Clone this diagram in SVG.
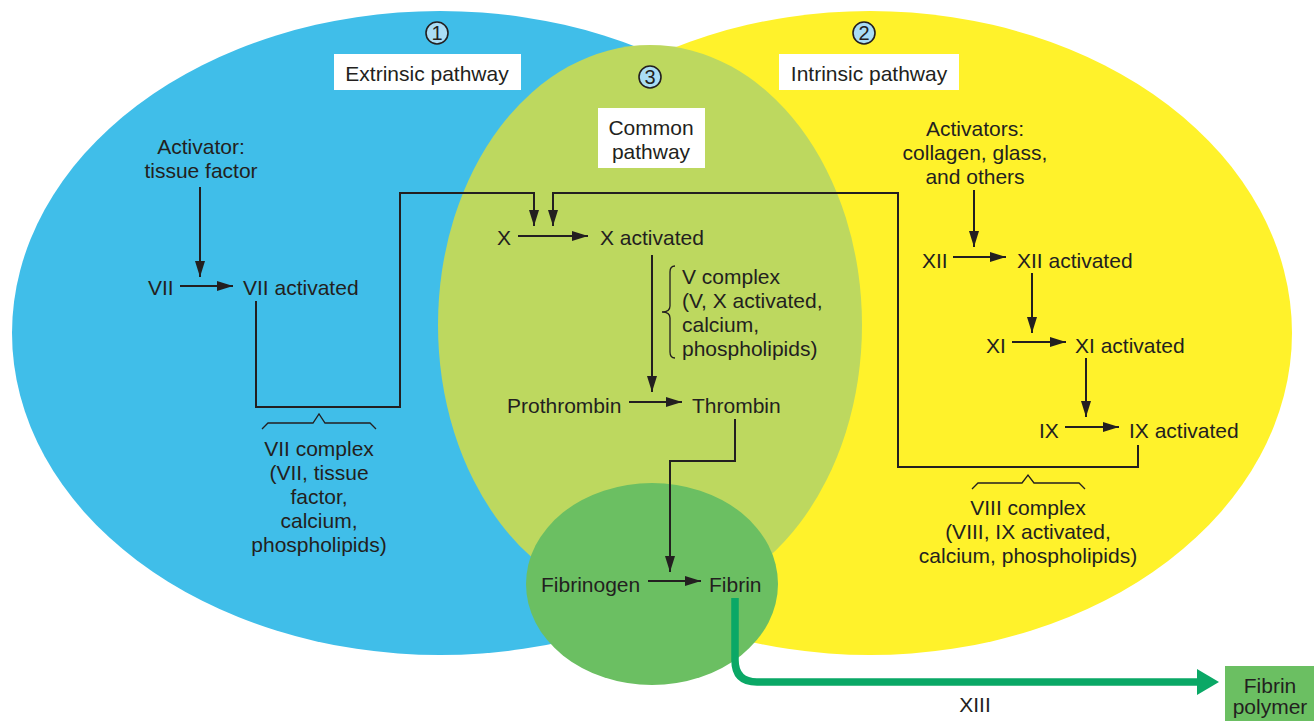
<svg xmlns="http://www.w3.org/2000/svg" width="1314" height="721" viewBox="0 0 1314 721">
<style>
text{font-family:"Liberation Sans",Arial,Helvetica,sans-serif;font-size:21px;fill:#231F20}
.c{text-anchor:middle}
.ln{fill:none;stroke:#231F20;stroke-width:2}
.br{fill:none;stroke:#231F20;stroke-width:1.3}
.lbl{fill:#FFFFFF}
.badge{fill:#A9DDF5;stroke:#231F20;stroke-width:1.6}
.bn{font-size:20px;text-anchor:middle}
</style>
<defs>
<marker id="ah" markerUnits="userSpaceOnUse" markerWidth="17" markerHeight="11" refX="16" refY="5" orient="auto">
<path d="M0,0 L16,5 L0,10 Z" fill="#231F20"/>
</marker>
</defs>
<g id="regions">
<ellipse id="extrinsic-area" cx="440" cy="333" rx="428" ry="322" fill="#40BEE9"/>
<ellipse id="intrinsic-area" cx="870" cy="333" rx="422" ry="322" fill="#FFF22B"/>
<ellipse id="common-area" cx="650" cy="325" rx="212" ry="280" fill="#BDD85F"/>
<ellipse id="fibrin-area" cx="652" cy="584" rx="126" ry="101" fill="#6BBF62"/>
</g>
<g id="badge1"><circle class="badge" cx="437" cy="33" r="11"/><text class="bn" x="437" y="40">1</text></g>
<g id="badge2"><circle class="badge" cx="864" cy="33" r="11"/><text class="bn" x="864" y="40">2</text></g>
<g id="badge3"><circle class="badge" cx="650" cy="77" r="11"/><text class="bn" x="650" y="84">3</text></g>
<g id="label-extrinsic"><rect class="lbl" x="334" y="54" width="187" height="36"/><text class="c" x="427" y="81">Extrinsic pathway</text></g>
<g id="label-intrinsic"><rect class="lbl" x="779" y="54" width="180" height="36"/><text class="c" x="869" y="81">Intrinsic pathway</text></g>
<g id="label-common"><rect class="lbl" x="598" y="108" width="107" height="60"/><text class="c" x="651" y="135">Common</text><text class="c" x="651" y="159">pathway</text></g>
<g id="connectors">
<line class="ln" x1="200" y1="187" x2="200" y2="277" marker-end="url(#ah)"/>
<line class="ln" x1="180" y1="286" x2="233" y2="286" marker-end="url(#ah)"/>
<polyline class="ln" points="256,301 256,407 400,407 400,193 534,193 534,226" marker-end="url(#ah)"/>
<polyline class="ln" points="1138,445 1138,467 898,467 898,193 553,193 553,226" marker-end="url(#ah)"/>
<line class="ln" x1="518" y1="236" x2="588" y2="236" marker-end="url(#ah)"/>
<line class="ln" x1="652" y1="255" x2="652" y2="392" marker-end="url(#ah)"/>
<line class="ln" x1="629" y1="402" x2="682" y2="402" marker-end="url(#ah)"/>
<polyline class="ln" points="735,419 735,461 670,461 670,572" marker-end="url(#ah)"/>
<line class="ln" x1="648" y1="581" x2="701" y2="581" marker-end="url(#ah)"/>
<line class="ln" x1="974" y1="190" x2="974" y2="247" marker-end="url(#ah)"/>
<line class="ln" x1="953" y1="257" x2="1006" y2="257" marker-end="url(#ah)"/>
<line class="ln" x1="1032" y1="273" x2="1032" y2="333" marker-end="url(#ah)"/>
<line class="ln" x1="1012" y1="342" x2="1066" y2="342" marker-end="url(#ah)"/>
<line class="ln" x1="1086" y1="358" x2="1086" y2="417" marker-end="url(#ah)"/>
<line class="ln" x1="1065" y1="427" x2="1119" y2="427" marker-end="url(#ah)"/>
<path d="M735,598 L735,660 Q735,682 757,682 L1199,682" fill="none" stroke="#0AA866" stroke-width="7.5"/>
<polygon points="1197,669 1219,682 1197,695" fill="#0AA866"/>
<text id="label-XIII" class="c" x="975" y="712">XIII</text>
</g>
<g id="brackets">
<path class="br" d="M262,429 L268,423 L313,423 L319,414 L325,423 L370,423 L376,429"/>
<path class="br" d="M972,489 L978,483 L1022,483 L1028,475 L1034,483 L1079,483 L1085,489"/>
<path class="br" d="M675,266 Q670,266 670,272 L670,306 Q670,312 662,312 Q670,312 670,318 L670,352 Q670,358 675,358"/>
</g>
<g id="node-activator-tf"><text class="c" x="201" y="154">Activator:</text><text class="c" x="201" y="178">tissue factor</text></g>
<g id="node-VII"><text x="148" y="295">VII</text></g>
<g id="node-VIIa"><text x="243" y="295">VII activated</text></g>
<g id="node-VII-complex"><text class="c" x="319" y="456">VII complex</text><text class="c" x="319" y="480">(VII, tissue</text><text class="c" x="319" y="504">factor,</text><text class="c" x="319" y="528">calcium,</text><text class="c" x="319" y="552">phospholipids)</text></g>
<g id="node-X"><text x="497" y="245">X</text></g>
<g id="node-Xa"><text x="600" y="245">X activated</text></g>
<g id="node-V-complex"><text x="682" y="284">V complex</text><text x="682" y="308">(V, X activated,</text><text x="682" y="332">calcium,</text><text x="682" y="356">phospholipids)</text></g>
<g id="node-prothrombin"><text x="507" y="413">Prothrombin</text></g>
<g id="node-thrombin"><text x="692" y="413">Thrombin</text></g>
<g id="node-fibrinogen"><text x="541" y="592">Fibrinogen</text></g>
<g id="node-fibrin"><text x="709" y="592">Fibrin</text></g>
<g id="node-activators"><text class="c" x="975" y="136">Activators:</text><text class="c" x="975" y="160">collagen, glass,</text><text class="c" x="975" y="184">and others</text></g>
<g id="node-XII"><text x="922" y="268">XII</text></g>
<g id="node-XIIa"><text x="1017" y="268">XII activated</text></g>
<g id="node-XI"><text x="986" y="353">XI</text></g>
<g id="node-XIa"><text x="1075" y="353">XI activated</text></g>
<g id="node-IX"><text x="1039" y="438">IX</text></g>
<g id="node-IXa"><text x="1129" y="438">IX activated</text></g>
<g id="node-VIII-complex"><text class="c" x="1028" y="515">VIII complex</text><text class="c" x="1028" y="539">(VIII, IX activated,</text><text class="c" x="1028" y="563">calcium, phospholipids)</text></g>
<g id="node-fibrin-polymer"><rect x="1225" y="666" width="89" height="55" fill="#6BBF62"/><text class="c" x="1270" y="693">Fibrin</text><text class="c" x="1270" y="714">polymer</text></g>
</svg>
